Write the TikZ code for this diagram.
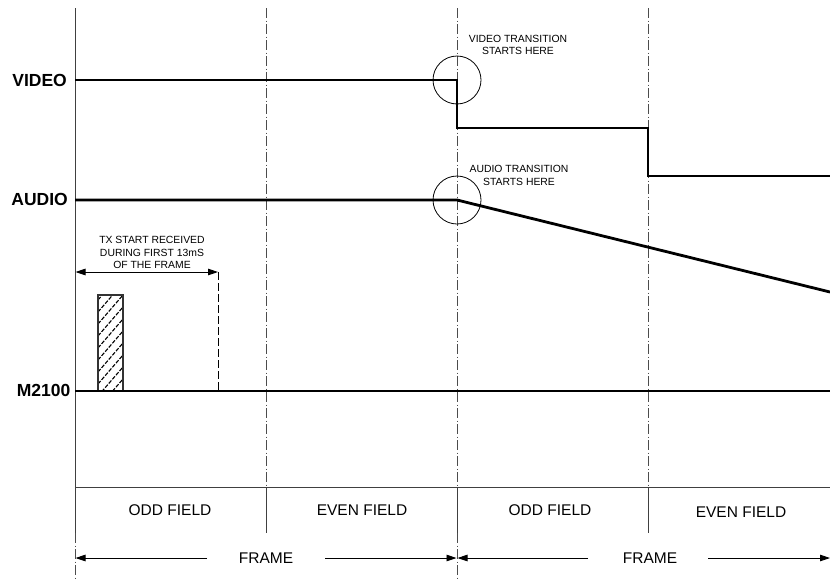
\documentclass[tikz,border=0pt]{standalone}
\usepackage{fontspec}
\setmainfont{Liberation Sans}
\usetikzlibrary{arrows.meta}
\begin{document}
\begin{tikzpicture}[x=1pt,y=-1pt,
  sig/.style={line width=2.8pt,black,line join=miter},
  dashdot/.style={line width=0.9pt,black!70,dash pattern=on 10pt off 2.5pt on 1pt off 2.5pt},
  thin/.style={line width=1pt,black!75},
  lbl/.style={font=\fontsize{17.5}{20}\selectfont\bfseries,anchor=east,inner sep=0pt},
  fld/.style={font=\fontsize{15.5}{18}\selectfont,inner sep=0pt},
  note/.style={font=\fontsize{10.4}{12.6}\selectfont,align=center,inner sep=0pt},
  arr/.style={line width=0.9pt,-{Triangle[length=10pt,width=6.5pt]}},
  dbl/.style={line width=0.9pt,{Triangle[length=10pt,width=6.5pt]}-{Triangle[length=10pt,width=6.5pt]}}]
\useasboundingbox (0,0) rectangle (830,579);
% coordinates
\coordinate (axT) at (75,8);
\coordinate (axB) at (75,533);
\coordinate (axE) at (75,579);
\coordinate (d1T) at (266,8); \coordinate (d1M) at (266,487); \coordinate (d1B) at (266,533);
\coordinate (d2T) at (457,8); \coordinate (d2M) at (457,487); \coordinate (d2B) at (457,533); \coordinate (d2E) at (457,579);
\coordinate (d3T) at (648,8); \coordinate (d3M) at (648,487); \coordinate (d3B) at (648,533);
\coordinate (bandL) at (75,487); \coordinate (bandR) at (830,487);
% axis and grid
\draw[thin] (axT) -- (axB);
\draw[dashdot] (axB) -- (axE);
\draw[dashdot] (d1T) -- (d1M); \draw[thin] (d1M) -- (d1B);
\draw[dashdot] (d2T) -- (d2M); \draw[thin] (d2M) -- (d2B); \draw[dashdot] (d2B) -- (d2E);
\draw[dashdot] (d3T) -- (d3M); \draw[thin] (d3M) -- (d3B);
\draw[thin] (bandL) -- (bandR);
% labels
\node[lbl] (lv) at (67,80) {VIDEO};
\node[lbl] (la) at (68,199) {AUDIO};
\node[lbl] (lm) at (70.5,390) {M2100};
% signals
\coordinate (v0) at (75,80); \coordinate (v1) at (457,80); \coordinate (v2) at (457,128);
\coordinate (v3) at (648,128); \coordinate (v4) at (648,176); \coordinate (v5) at (830,176);
\draw[sig] (v0) -- (v1) -- (v2) -- (v3) -- (v4) -- (v5);
\coordinate (a0) at (75,200); \coordinate (a1) at (457,200); \coordinate (a2) at (830,292);
\draw[sig] (a0) -- (a1) -- (a2);
\coordinate (m0) at (75,391); \coordinate (m1) at (830,391);
% hatched box
\coordinate (hA) at (98,295); \coordinate (hB) at (123,391);
\begin{scope}
\clip (hA) rectangle (hB);
\foreach \i in {0,...,10} \draw[line width=1.1pt,dash pattern=on 4pt off 1.5pt] (98,300+12*\i) -- ++(25,-29);
\end{scope}
\draw[line width=1.1pt,black!80] (hA) rectangle (hB);
\draw[sig] (m0) -- (m1);
% circles
\node[draw,circle,minimum size=48pt,line width=0.8pt,inner sep=0pt] (cv) at (v1) {};
\node[draw,circle,minimum size=48pt,line width=0.8pt,inner sep=0pt] (ca) at (a1) {};
\node[note] (tv) at (518,45) {VIDEO TRANSITION\\STARTS HERE};
\node[note] (ta) at (519,175.5) {AUDIO TRANSITION\\STARTS HERE};
% TX start
\node[note] (tx) at (152,252.5) {TX START RECEIVED\\DURING FIRST 13mS\\OF THE FRAME};
\coordinate (txL) at (75.5,272); \coordinate (txR) at (218,272); \coordinate (txB) at (218,391);
\draw[dbl] (txL) -- (txR);
\draw[line width=0.9pt,dash pattern=on 8pt off 3pt] (txR) -- (txB);
% field labels
\node[fld] (f1) at (170,510) {ODD FIELD};
\node[fld] (f2) at (362,510) {EVEN FIELD};
\node[fld] (f3) at (550,510) {ODD FIELD};
\node[fld] (f4) at (741,512) {EVEN FIELD};
% frames
\node[fld] (fr1) at (266,558) {FRAME};
\node[fld] (fr2) at (650,558) {FRAME};
\coordinate (p1) at (207,558); \coordinate (p1e) at (75.5,558);
\coordinate (p2) at (325,558); \coordinate (p2e) at (456.5,558);
\coordinate (p3) at (588,558); \coordinate (p3e) at (457.5,558);
\coordinate (p4) at (708,558); \coordinate (p4e) at (830,558);
\draw[arr] (p1) -- (p1e);
\draw[arr] (p2) -- (p2e);
\draw[arr] (p3) -- (p3e);
\draw[arr] (p4) -- (p4e);
\end{tikzpicture}
\end{document}
